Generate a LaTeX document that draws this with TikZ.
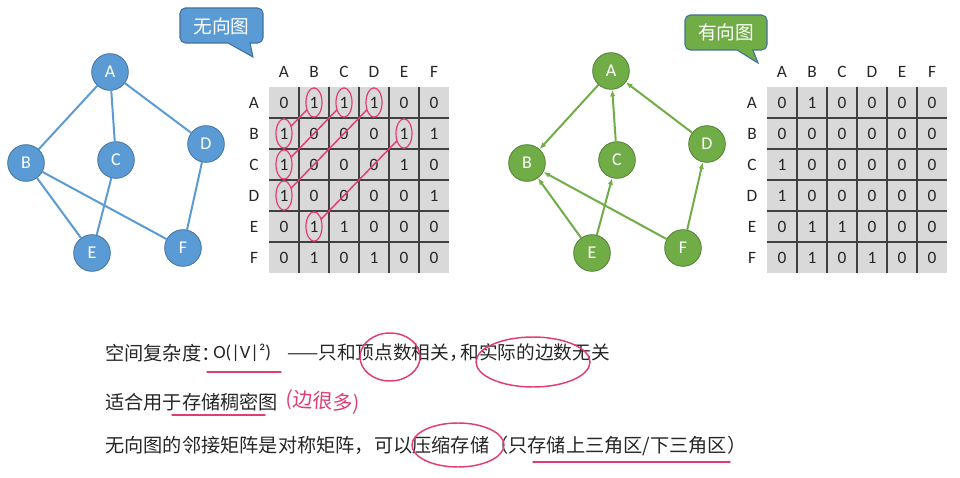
\documentclass[tikz,border=0pt]{standalone}
\usepackage{fontspec}
\setmainfont{Carlito}
\newfontfamily\cjk{Noto Sans CJK SC}
\usetikzlibrary{arrows.meta,shapes.geometric}

\begin{document}
\begin{tikzpicture}[x=0.75pt,y=-0.75pt,>={Latex[length=5pt,width=4pt]}]

% colors
\definecolor{cBlue}{RGB}{91,155,213}
\definecolor{cBlueDark}{RGB}{65,113,156}
\definecolor{cGreen}{RGB}{112,173,71}
\definecolor{cGreenDark}{RGB}{80,126,50}
\definecolor{cGray}{RGB}{217,217,217}
\definecolor{cPink}{RGB}{226,60,116}

\tikzset{
  unode/.style={circle,minimum size=27.5pt,inner sep=0pt,fill=cBlue,draw=cBlueDark,line width=0.6pt,
    text=white,font=\fontsize{13.5}{14}\selectfont},
  dnode/.style={unode,fill=cGreen,draw=cGreenDark},
  uedge/.style={draw=cBlue,line width=1.5pt},
  dedge/.style={draw=cGreen,line width=1.5pt,->},
  hdr/.style={inner sep=0pt,text=black!85,font=\fontsize{13}{14}\selectfont},
  cell/.style={hdr},
  grid/.style={draw=black!75,line width=1pt},
  ring/.style={ellipse,draw=cPink,line width=0.9pt,minimum width=12pt,minimum height=22pt,inner sep=0pt},
  penmark/.style={draw=cPink,line width=1.1pt,line cap=round},
  note/.style={anchor=west,inner sep=0pt,text=black!85,font=\cjk\fontsize{14.4}{16}\selectfont},
  tag/.style={inner sep=0pt,text=white,font=\cjk\fontsize{14}{16}\selectfont}
}

\useasboundingbox (0,0) rectangle (960,478);

% geometry
\def\xu{269}
\def\xd{767}
\def\my{87}
\def\cwd{30}
\def\cht{31}

% speech bubbles
\draw[fill=cBlue,draw=cBlueDark,line width=0.8pt,rounded corners=4pt]
  (228,43) -- (180,43) -- (180,8) -- (263,8) -- (263,43) [sharp corners] -- (250,43) -- (253,57) -- cycle;
\node[tag] (uTag) at (221.5,26) {无向图};
\draw[fill=cGreen,draw=cBlueDark,line width=0.8pt,rounded corners=4pt]
  (737,50) -- (685,50) -- (685,15) -- (767,15) -- (767,50) [sharp corners] -- (753,50) -- (758,63) -- cycle;
\node[tag] (dTag) at (726,32.5) {有向图};

% undirected graph
\node[unode] (uA) at (110,72) {A};
\node[unode] (uB) at (26,163) {B};
\node[unode] (uC) at (116,160) {C};
\node[unode] (uD) at (206,144) {D};
\node[unode] (uE) at (92,253) {E};
\node[unode] (uF) at (183,248) {F};

\draw[uedge] (uA) -- (uB);
\draw[uedge] (uA) -- (uC);
\draw[uedge] (uA) -- (uD);
\draw[uedge] (uB) -- (uE);
\draw[uedge] (uB) -- (uF);
\draw[uedge] (uC) -- (uE);
\draw[uedge] (uD) -- (uF);

% directed graph
\node[dnode] (dA) at (611,71) {A};
\node[dnode] (dB) at (527,163) {B};
\node[dnode] (dC) at (617,160) {C};
\node[dnode] (dD) at (707,144) {D};
\node[dnode] (dE) at (592,253) {E};
\node[dnode] (dF) at (683,248) {F};

\draw[dedge] (dA) -- (dB);
\draw[dedge] (dC) -- (dA);
\draw[dedge] (dD) -- (dA);
\draw[dedge] (dE) -- (dB);
\draw[dedge] (dE) -- (dC);
\draw[dedge] (dF) -- (dB);
\draw[dedge] (dF) -- (dD);

% matrix backgrounds and grid lines
\fill[cGray] (\xu,\my) rectangle ({\xu+6*\cwd},{\my+6*\cht});
\fill[cGray] (\xd,\my) rectangle ({\xd+6*\cwd},{\my+6*\cht});
\foreach \i in {1,...,5}{
  \draw[grid] ({\xu+\cwd*\i},\my) -- ({\xu+\cwd*\i},{\my+6*\cht});
  \draw[grid] (\xu,{\my+\cht*\i}) -- ({\xu+6*\cwd},{\my+\cht*\i});
  \draw[grid] ({\xd+\cwd*\i},\my) -- ({\xd+\cwd*\i},{\my+6*\cht});
  \draw[grid] (\xd,{\my+\cht*\i}) -- ({\xd+6*\cwd},{\my+\cht*\i});
}

% column labels
\foreach \cl [count=\c] in {A,B,C,D,E,F}{
  \node[hdr] (uc\cl) at ({\xu+\cwd*(\c-0.5)},72) {\cl};
  \node[hdr] (dc\cl) at ({\xd+\cwd*(\c-0.5)},72) {\cl};
}

% undirected matrix
\foreach \rl/\vals [count=\r] in {
  A/{0,1,1,1,0,0},
  B/{1,0,0,0,1,1},
  C/{1,0,0,0,1,0},
  D/{1,0,0,0,0,1},
  E/{0,1,1,0,0,0},
  F/{0,1,0,1,0,0}}{
  \node[hdr] (ur\rl) at ({\xu-15},{\my+\cht*(\r-0.5)}) {\rl};
  \foreach \v [count=\c] in \vals {
    \node[cell] (u-\r-\c) at ({\xu+\cwd*(\c-0.5)},{\my+\cht*(\r-0.5)}) {\v};
  }
}

% directed matrix
\foreach \rl/\vals [count=\r] in {
  A/{0,1,0,0,0,0},
  B/{0,0,0,0,0,0},
  C/{1,0,0,0,0,0},
  D/{1,0,0,0,0,0},
  E/{0,1,1,0,0,0},
  F/{0,1,0,1,0,0}}{
  \node[hdr] (dr\rl) at ({\xd-15},{\my+\cht*(\r-0.5)}) {\rl};
  \foreach \v [count=\c] in \vals {
    \node[cell] (d-\r-\c) at ({\xd+\cwd*(\c-0.5)},{\my+\cht*(\r-0.5)}) {\v};
  }
}

% symmetric entries, circled
\node[ring] (rAB) at (u-1-2) {};
\node[ring] (rAC) at (u-1-3) {};
\node[ring] (rAD) at (u-1-4) {};
\node[ring] (rBA) at (u-2-1) {};
\node[ring] (rBE) at (u-2-5) {};
\node[ring] (rCA) at (u-3-1) {};
\node[ring] (rDA) at (u-4-1) {};
\node[ring] (rEB) at (u-5-2) {};
\draw[penmark] (rBA) -- (rAB);
\draw[penmark] (rCA) -- (rAC);
\draw[penmark] (rDA) -- (rAD);
\draw[penmark] (rEB) -- (rBE);

% notes
\node[note] (line1a) at (105,353) {空间复杂度\makebox[0.55em][l]{：}};
\node[note,font=\fontsize{14}{16}\selectfont] (line1b) at (213,353) {O(|V|²)};
\node[note,font=\cjk\fontsize{14}{16}\selectfont] (line1c) at (287,353) {——只和顶点数相关\makebox[0.6em][l]{，}和实际的边数无关};
\node[note] (line2) at (105,402) {适合用于存储稠密图};
\node[note] (line3) at (105,446) {无向图的邻接矩阵是对称矩阵，可以压缩存储（只存储上三角区/下三角区）};
\node[note,anchor=center,text=cPink,rotate=-4,font=\cjk\fontsize{15}{16}\selectfont] (hand) at (323,402) {(边很多)};

% pen marks
\draw[penmark] (207,372) -- (281,372);
\draw[penmark] (390,357) ellipse [x radius=30, y radius=24];
\draw[penmark] (533,362) ellipse [x radius=57, y radius=25];
\draw[penmark] (172,415) -- (265,415);
\draw[penmark] (458,445) ellipse [x radius=46, y radius=22];
\draw[penmark] (533,462) -- (730,462);

\end{tikzpicture}
\end{document}
